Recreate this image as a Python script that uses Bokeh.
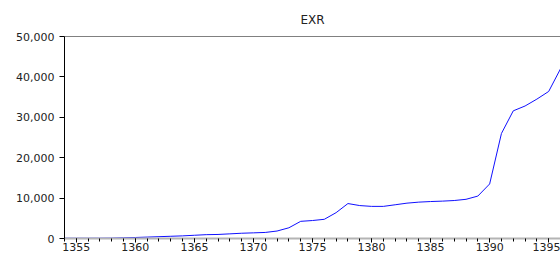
from bokeh.plotting import figure
from bokeh.models import Range1d, LinearAxis, FixedTicker, NumeralTickFormatter
from bokeh.embed import file_html
from bokeh.resources import INLINE

years = list(range(1354, 1397))
exr = [70, 70, 70, 75, 100, 180, 250, 350, 450, 550,
       650, 800, 950, 1000, 1150, 1300, 1400, 1500, 1850, 2650,
       4250, 4450, 4750, 6400, 8650, 8150, 7950, 7950, 8350, 8750,
       9000, 9150, 9250, 9400, 9700, 10500, 13500, 26000, 31600, 32800,
       34500, 36400, 42000]
x_major = [1355, 1360, 1365, 1370, 1375, 1380, 1385, 1390, 1395]
y_major = [0, 10000, 20000, 30000, 40000, 50000]
title = "EXR"

FONT = "DejaVu Sans"

p = figure(width=560, height=256, output_backend="svg", toolbar_location=None,
           x_range=Range1d(1354, 1396), y_range=Range1d(0, 50000),
           min_border_left=64, min_border_right=0, min_border_top=35, min_border_bottom=18,
           title=title)
p.title.align = "center"
p.title.text_font = FONT
p.title.text_font_size = "12px"
p.title.text_font_style = "normal"
p.title.text_color = "#222222"
p.title.standoff = 20
p.title.text_line_height = 0.6

p.outline_line_color = None
p.xgrid.visible = False
p.ygrid.visible = False
p.background_fill_color = "white"

# y axis
ya = p.yaxis[0]
ya.ticker = FixedTicker(ticks=y_major)
ya.formatter = NumeralTickFormatter(format="0,0")
ya.axis_line_color = "black"
ya.major_tick_line_color = "black"
ya.major_tick_out = 5
ya.major_tick_in = 0
ya.minor_tick_line_color = None
ya.major_label_text_font = FONT
ya.major_label_text_font_size = "11px"
ya.major_label_text_color = "#222222"
ya.major_label_standoff = 5

# x axis
xa = p.xaxis[0]
xa.ticker = FixedTicker(ticks=x_major, minor_ticks=years)
xa.axis_line_color = "#b4b4b4"
xa.axis_line_width = 2
xa.major_tick_line_color = "black"
xa.minor_tick_line_color = "black"
xa.major_tick_out = 4
xa.major_tick_in = 0
xa.minor_tick_out = 3
xa.minor_tick_in = 0
xa.major_label_text_font = FONT
xa.major_label_text_font_size = "11px"
xa.major_label_text_color = "#222222"
xa.major_label_standoff = 0

# top frame line
top = LinearAxis(ticker=FixedTicker(ticks=[]), axis_line_color="#808080",
                 major_tick_line_color=None, minor_tick_line_color=None,
                 major_label_standoff=0)
p.add_layout(top, "above")

p.line(years, exr, line_color="#1010ff", line_width=1)

open("out.html", "w").write(file_html(p, INLINE))
